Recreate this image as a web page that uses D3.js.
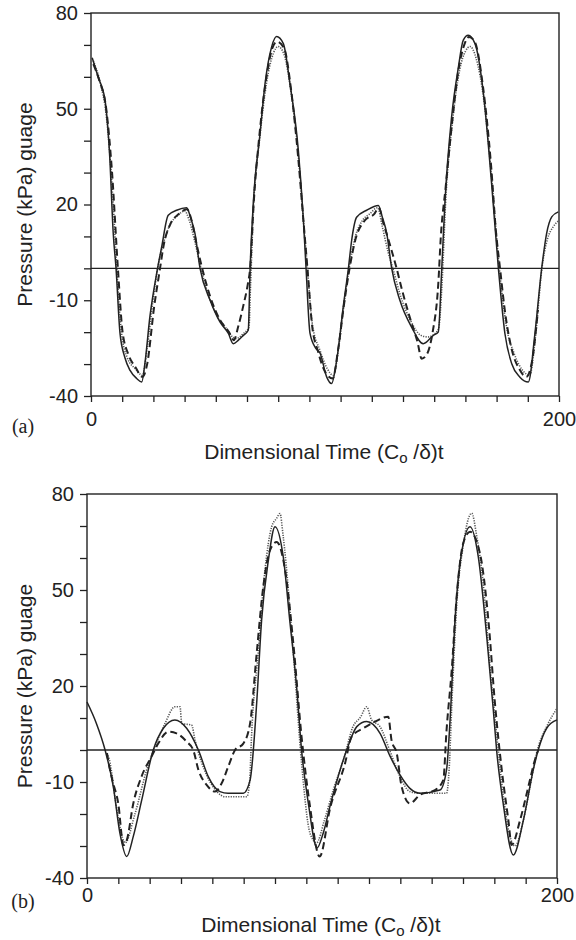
<!doctype html>
<html>
  <head>
    <script src="https://d3js.org/d3.v7.min.js"></script>
    <style>
      body { margin: 0; background: #fff; }
      text { font-family: "Liberation Sans", Arial, sans-serif; fill: #222; }
      .tag { font-family: "Liberation Serif", "Times New Roman", serif; }
    </style>
  </head>
  <body>
    <div id="chart"></div>
    <script>
      // ---- data: [time, pressure kPa] ----
      var aSolid = [[0.5,66],[3,60],[6,52.7],[8,35],[9.5,11],[10.7,0],[12.4,-20.4],[14.5,-28],[16.7,-32],[19.5,-34.5],[21.7,-35.6],
        [23,-30],[25.2,-15],[28.3,-0.6],[30.2,6.7],[33,16.6],[36.6,18.2],[40.9,19],[42.5,16],[44.4,11],[46.6,0],[50.9,-10],
        [55.1,-16.8],[58.7,-20.4],[60.8,-23.6],[63,-22.5],[65.1,-21],[67.2,-19.4],[68,0],[69.4,21],[72.2,42],[74.4,58],
        [77.2,69.4],[79.3,72.6],[82.2,70.4],[85,58],[88.6,37],[90.7,16],[91.9,0],[93.6,-20.4],[96,-25],[97.9,-26.6],
        [100.7,-34],[102.8,-36.1],[105,-28.8],[107.8,-12],[110,0],[111.4,8.8],[113.5,16],[117.8,18.2],[122.8,19.7],
        [124.5,16],[126.4,10.9],[128.5,0],[132,-10],[137,-18.4],[142,-23.6],[146.3,-21],[148.4,-20],[149.9,0],[151.3,21.3],
        [154.1,47.4],[157,63],[159.1,71.5],[161.2,73],[164.1,70.4],[167.7,54.8],[171.2,26.5],[174.1,0],[176.9,-20.5],
        [179.8,-29.9],[183.3,-34.1],[186.9,-35.6],[189.7,-20.5],[192.6,0],[194.7,10.9],[196.9,16.1],[199.7,17.7]];
      var aDashed = [[1,64],[3.5,59],[6.5,50],[9,30],[11.5,0],[13.5,-20],[16,-27],[19,-31],[22,-34],[24,-30],[27,-12],
        [29.5,0],[31,7],[34,14],[37.5,17],[41,18.5],[43,15],[45,8],[47.5,0],[51,-9],[55,-16],[59,-20],[61,-22.5],[63,-18],
        [65,-12],[67,-5],[68,0],[69.5,20],[72,42],[75,60],[77.5,69],[79.5,71],[82.5,69],[85.5,56],[88.5,35],[91,13],
        [92.5,0],[94.5,-18],[97,-26],[100.5,-33],[103.3,-34.5],[105.5,-26],[108,-12],[110.5,0],[113,9],[117,15],[121,17],
        [123,19],[125,14],[127.5,8],[130.6,0],[133,-7],[136.5,-16],[139.5,-23],[141.3,-28.3],[143.5,-27],[146,-20],
        [148.4,-5],[149.5,10],[151.5,25],[154.5,47],[157,62],[159.5,70],[161.5,72.5],[164,71],[167.5,57],[171,32],
        [173,12],[174.8,0],[177,-14],[180,-26],[183,-31.5],[186,-34],[188.5,-29],[191,-13]];
      var aDotted = [[1,65],[4,58],[6.5,48],[9.5,20],[11,0],[13,-20],[15.5,-28],[19,-31.5],[22,-33.5],[24,-25],[26.5,-10],
        [28.5,0],[31,8],[34,14],[37,16.5],[40,18],[42,15],[44.5,8],[47,0],[50,-8],[54,-15],[58,-19],[60.5,-21.5],[62,-22],
        [65,-20.5],[67.5,-18.5],[68.2,-5],[69.5,20],[72,40],[75,58],[78,67.5],[80,69.5],[82.5,67],[85.5,55],[88.5,36],
        [91,13],[92.5,0],[94.5,-17],[98,-26],[101,-31.5],[103.5,-33.5],[106,-24],[108,-12],[110.3,0],[113,10],[116,15],
        [119,17],[122.5,19],[124.5,13],[127,5],[129,0],[132,-8],[137,-17],[141,-21],[144,-21.5],[146,-21],[148.5,-19],
        [150,-5],[151.5,20],[154.5,46],[157.5,62],[160,68],[162,69.5],[164.5,66],[168,52],[171.5,26],[174.5,0],[177.5,-18],
        [181,-27],[184.5,-32],[187.5,-33.5],[190,-21],[192.7,0],[195,9],[197.5,13],[200,15]];

      var bSolid = [[0,15],[4,8.3],[7.7,0],[11.2,-11.5],[14,-26],[16.9,-33.3],[19.7,-27],[23.3,-15.6],[28.2,0],[32.5,6.8],
        [37.4,9.4],[42.4,6.8],[47.4,0],[51.6,-8.3],[56.6,-13],[60,-13.5],[66.5,-13.5],[69.4,-9.4],[72.2,14.6],[74.3,40.6],
        [77.2,59.4],[80,69.8],[83.5,60.4],[86.4,39.6],[89.2,19.8],[91.3,0],[94.2,-16.7],[97.9,-30.6],[100.5,-26],
        [103.7,-16.7],[110.5,0],[114.8,7.3],[119,8.9],[124.7,5.2],[129,-2],[133.2,-7.8],[137.4,-12],[141.7,-13.5],
        [150.2,-12.5],[153,-6.2],[154.5,9.4],[156.6,40.6],[158.7,58.3],[163,69.8],[166.5,60.4],[170.1,35.4],[172.9,12.5],
        [174.3,0],[177.1,-16.7],[181.4,-32.8],[185.7,-21.9],[189.9,-6.2],[192,0],[195.6,6.8],[200,9.4]];
      var bDashed = [[8.5,-1],[9.2,-4],[11,-10],[13.3,-16.7],[15.5,-29.7],[17,-28],[19.7,-16.7],[23.2,-8.3],[27.5,-2],
        [30.3,2],[34.6,5.7],[38.1,5.2],[42.4,2.6],[45.2,0],[47.4,-6.2],[50.9,-10.9],[54.5,-13],[57.3,-10.4],[60.1,-5.2],
        [63,0],[66.5,2],[69.4,8.3],[72.2,30.2],[75,51],[77.9,62.5],[80.7,65],[84.3,56.2],[87.8,33.3],[91.3,4.2],
        [94.9,-17.7],[99,-33.3],[103.5,-18],[109.8,-4.2],[112.6,4.2],[117.6,6.8],[122.6,8.9],[128.2,10.4],[129.6,3],
        [131.8,-1],[133.9,-11.5],[137.4,-16.7],[141.7,-14],[148.1,-12.5],[151.6,-9.4],[153,6.2],[155.2,25],[157.3,47.9],
        [160.1,64.6],[163,68.2],[167.2,61.5],[170.8,40.6],[173.6,14.6],[176.5,-6.2],[179.3,-21.9],[180.7,-29.7],
        [184.3,-21.9],[187.8,-11.5],[190.6,-3.1],[192,0]];
      var bDotted = [[8.5,-1],[9.5,-3],[12.3,-16.7],[14,-24],[16.2,-29],[20.4,-20],[25.4,-6.2],[28.9,1],[33.2,8.3],
        [37.4,13.5],[39.6,13.5],[40.3,8.3],[44.5,7.8],[46,3],[51,-8],[55.3,-13],[58.7,-14.6],[68,-14.6],[69.2,-10],[70,4],
        [72.8,30],[75.7,56],[78.6,69.8],[80.7,72.4],[82.1,73.9],[83.5,66.7],[87.8,30.2],[91.3,-4],[94.9,-26],[97.7,-29],
        [101,-22],[105,-12],[109.5,-2.2],[113,7],[116.5,10.4],[119,13.5],[121.1,9.4],[124.7,7.3],[129,-0.5],[133.2,-8.3],
        [137.4,-13],[141.7,-13.5],[153,-13.5],[154.1,-6],[155.2,13.5],[157.3,45],[160.1,64],[163.7,74],[165.8,67],
        [168.6,52],[171.5,26],[174.3,5],[177.1,-14],[180,-27],[182.1,-30],[185.7,-21.9],[188.5,-11.5],[191.3,-1],
        [195.6,7.3],[200,13]];

      var yTicks = [-40, -30, -20, -10, 0, 10, 20, 30, 40, 50, 60, 70, 80];
      var yLabels = [80, 50, 20, -10, -40];
      var xTicks = d3.range(16).map(function(i) { return i * 200 / 15; });
      var xLabels = [0, 200];
      var yTitle = "Pressure (kPa) guage";

      var width = 576, height = 940;
      var svg = d3.select("#chart").append("svg")
        .attr("width", width).attr("height", height);

      // one panel: box, axes, zero line and the three traces
      function panel(box, series, tag, xPad, titleY, tagY) {
        var x = d3.scaleLinear().domain([0, 200]).range([box.x0, box.x1]);
        var y = d3.scaleLinear().domain([-40, 80]).range([box.y1, box.y0]);
        var g = svg.append("g");

        g.append("rect")
          .attr("x", box.x0).attr("y", box.y0)
          .attr("width", box.x1 - box.x0).attr("height", box.y1 - box.y0)
          .attr("fill", "none").attr("stroke", "#222").attr("stroke-width", 1.4);

        var ya = g.append("g").attr("transform", "translate(" + box.x0 + ",0)")
          .call(d3.axisLeft(y).tickValues(yTicks).tickSize(7).tickPadding(6)
            .tickFormat(function(d) { return yLabels.indexOf(d) >= 0 ? d : ""; }));
        var xa = g.append("g").attr("transform", "translate(0," + box.y1 + ")")
          .call(d3.axisBottom(x).tickValues(xTicks).tickSize(6).tickPadding(xPad)
            .tickFormat(function(d) { return xLabels.indexOf(d) >= 0 ? d : ""; }));
        [ya, xa].forEach(function(a) {
          a.select(".domain").remove();
          a.selectAll("line").attr("stroke", "#222").attr("stroke-width", 1.3);
          a.selectAll("text").attr("font-size", 20).attr("fill", "#222")
            .attr("font-family", "'Liberation Sans', Arial, sans-serif");
        });

        // zero reference line
        g.append("line")
          .attr("x1", box.x0).attr("x2", box.x1)
          .attr("y1", y(0)).attr("y2", y(0))
          .attr("stroke", "#222").attr("stroke-width", 1.3);

        var line = d3.line()
          .x(function(d) { return x(d[0]); })
          .y(function(d) { return y(d[1]); })
          .curve(d3.curveMonotoneX);

        g.append("path").datum(series[2]).attr("d", line)
          .attr("fill", "none").attr("stroke", "#555").attr("stroke-width", 1.6)
          .attr("stroke-dasharray", "1.2,1.3");
        g.append("path").datum(series[1]).attr("d", line)
          .attr("fill", "none").attr("stroke", "#222").attr("stroke-width", 2)
          .attr("stroke-dasharray", "7,4");
        g.append("path").datum(series[0]).attr("d", line)
          .attr("fill", "none").attr("stroke", "#222").attr("stroke-width", 1.5);

        // axis titles
        g.append("text")
          .attr("transform", "translate(32," + ((box.y0 + box.y1) / 2) + ") rotate(-90)")
          .attr("text-anchor", "middle").attr("font-size", 21)
          .text(yTitle);
        var xt = g.append("text")
          .attr("x", (box.x0 + box.x1) / 2 - 1).attr("y", titleY)
          .attr("text-anchor", "middle").attr("font-size", 21);
        xt.append("tspan").text("Dimensional Time (C");
        xt.append("tspan").attr("dy", 4).attr("font-size", 15).text("o");
        xt.append("tspan").attr("dy", -4).text(" /\u03b4)t");

        g.append("text").attr("class", "tag")
          .attr("x", 23).attr("y", tagY)
          .attr("text-anchor", "middle").attr("font-size", 20)
          .text(tag);
      }

      panel({x0: 91, x1: 559, y0: 13, y1: 396}, [aSolid, aDashed, aDotted], "(a)", 10, 459, 433);
      panel({x0: 87, x1: 557, y0: 494, y1: 878}, [bSolid, bDashed, bDotted], "(b)", 4, 932, 908);
    </script>
  </body>
</html>
